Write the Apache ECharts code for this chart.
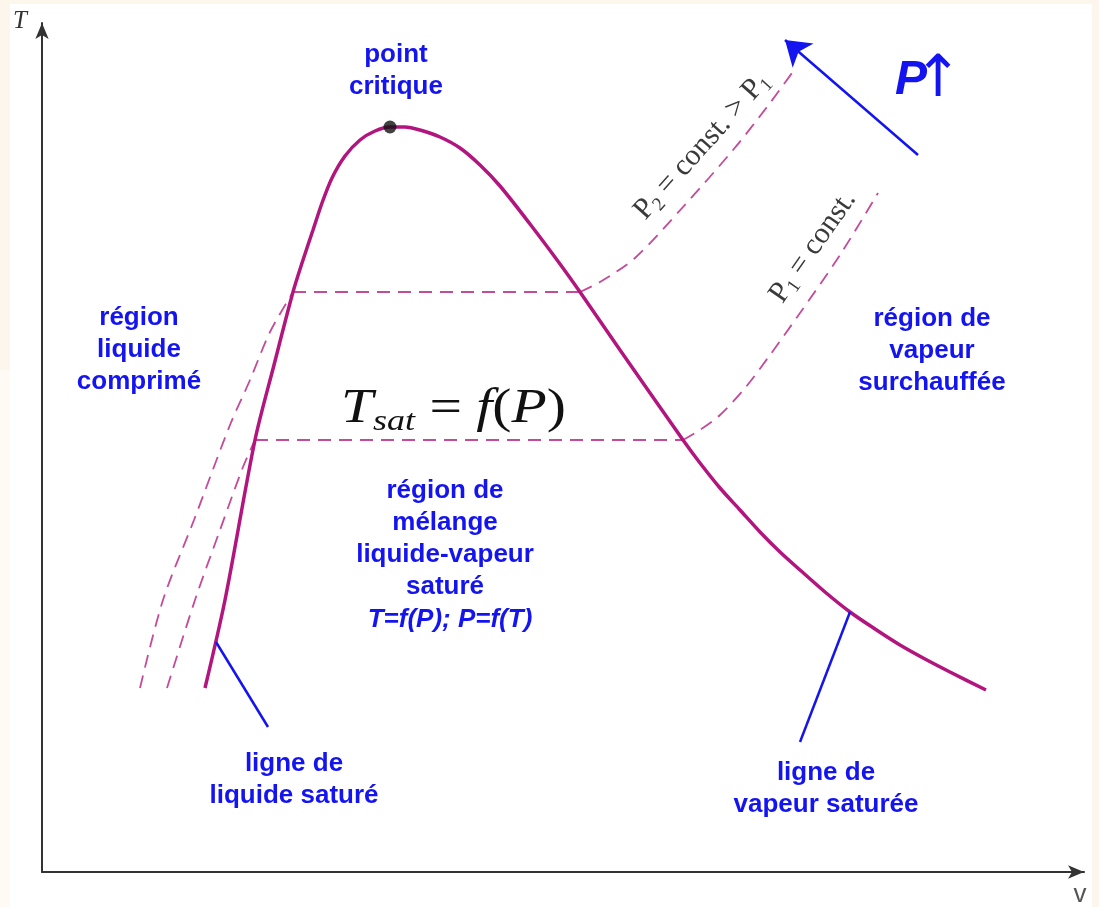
<!DOCTYPE html>
<html>
<head>
<meta charset="utf-8">
<title>Diagramme T-v</title>
<script src="https://cdn.jsdelivr.net/npm/echarts@6/dist/echarts.min.js"></script>
<style>
  html, body { margin: 0; padding: 0; background: #fdf6ec; }
  #main { width: 1099px; height: 907px; }
</style>
</head>
<body>
<div id="main"></div>
<script>
// courbe de saturation, [v, T] en unites arbitraires
const liquideSature = [[163,184],[183,272],[213,432],[232,507],[251,580],[261,612],[271,642],[280,669],[290,694],[303,716],[318,732],[333,741],[348,745]];
const vapeurSaturee = [[348,745],[363,745],[378,742],[398,735],[418,724],[438,707],[458,686],[488,648],[518,608],[538,580],[578,522],[641,432],[658,409],[678,384],[698,362],[718,340],[738,320],[758,302],[783,280],[808,260],[833,243],[858,227],[883,213],[908,200],[944,182]];
const pointCritique = [[348,745]];

// isobares P2 > P1
const p2Liquide = [[98,184],[121,272],[152,352],[188,447],[208,492],[228,540],[251,580]];
const p2Palier = [[251,580],[538,580]];
const p2Vapeur = [[538,580],[558,590],[593,614],[641,665],[691,722],[725,765],[750,799]];
const p1Liquide = [[125,184],[153,272],[178,342],[201,405],[213,432]];
const p1Palier = [[213,432],[641,432]];
const p1Vapeur = [[641,432],[658,442],[678,457],[703,484],[728,517],[758,559],[798,617],[836,679]];

// traits de renvoi et fleche "P augmente"
const renvois = [
    [[174,230],[226,145]],
    [[808,260],[758,130]]
];
const flecheP = [[876,717],[743,832]];

const bleu = '#1414f0';
const magenta = '#b3157f';
const rose = '#c24c9a';

function courbe(data, pointille, lisse) {
    return {
        type: 'line',
        data: data,
        symbol: 'none',
        silent: true,
        smooth: lisse ? 0.3 : false,
        z: pointille ? 2 : 3,
        lineStyle: pointille
            ? { color: rose, width: 1.8, type: [13, 8] }
            : { color: magenta, width: 3.5 }
    };
}

function texteBleu(text, x, y, italique) {
    return {
        type: 'text', x: x, y: y, silent: true,
        style: {
            text: text,
            fill: bleu,
            font: (italique ? 'italic ' : '') + 'bold 26px "Liberation Sans", Arial, sans-serif',
            align: 'center',
            verticalAlign: 'middle',
            lineHeight: 32
        }
    };
}

function texteIsobare(text, x, y, angle) {
    return {
        type: 'text', x: x, y: y, rotation: angle, silent: true,
        style: {
            text: text,
            fill: '#3a3a3a',
            font: '30px "Liberation Serif", serif',
            align: 'center',
            verticalAlign: 'middle',
            rich: {
                a: { font: '30px "Liberation Serif", serif', fill: '#3a3a3a', lineHeight: 34, verticalAlign: 'middle' },
                s: { font: '19px "Liberation Serif", serif', fill: '#3a3a3a', lineHeight: 17, verticalAlign: 'bottom' }
            }
        }
    };
}

const chart = echarts.init(document.getElementById('main'));

const axe = (max) => ({
    type: 'value',
    min: 0,
    max: max,
    axisLine: {
        show: true,
        symbol: ['none', 'arrow'],
        symbolSize: [10, 16],
        lineStyle: { color: '#333', width: 2 }
    },
    axisTick: { show: false },
    axisLabel: { show: false },
    splitLine: { show: false }
});

const option = {
    backgroundColor: '#fdf6ec',
    animation: false,
    grid: { left: 42, right: 15, top: 23, bottom: 35 },
    xAxis: axe(1042),
    yAxis: axe(849),
    series: [
        courbe(liquideSature.concat(vapeurSaturee.slice(1)), false, true),
        courbe(p2Liquide, true, true),
        courbe(p2Palier, true, false),
        courbe(p2Vapeur, true, true),
        courbe(p1Liquide, true, true),
        courbe(p1Palier, true, false),
        courbe(p1Vapeur, true, true),
        {
            type: 'scatter',
            data: pointCritique,
            symbolSize: 13,
            itemStyle: { color: '#111' },
            z: 5
        },
        {
            type: 'lines',
            coordinateSystem: 'cartesian2d',
            data: renvois.map(c => ({ coords: c })),
            symbol: 'none',
            lineStyle: { color: bleu, width: 2.5, opacity: 1, curveness: 0 },
            z: 4
        },
        {
            type: 'lines',
            coordinateSystem: 'cartesian2d',
            data: [{ coords: flecheP }],
            symbol: ['none', 'arrow'],
            symbolSize: 24,
            lineStyle: { color: bleu, width: 2.5, opacity: 1, curveness: 0 },
            z: 4
        }
    ],
    graphic: [
        { type: 'rect', z: -10, silent: true, shape: { x: 10, y: 4, width: 1082, height: 903 }, style: { fill: '#ffffff' } },
        { type: 'rect', z: -10, silent: true, shape: { x: 0, y: 370, width: 10, height: 537 }, style: { fill: '#fffaf3' } },

        { type: 'text', x: 20, y: 21, silent: true, style: { text: 'T', fill: '#333', font: 'italic 25px "Liberation Serif", serif', align: 'center', verticalAlign: 'middle' } },
        { type: 'text', x: 1080, y: 895, silent: true, style: { text: 'v', fill: '#555', font: '26px "Liberation Sans", sans-serif', align: 'center', verticalAlign: 'middle' } },

        texteBleu('point\ncritique', 396, 71),
        texteBleu('région\nliquide\ncomprimé', 139, 350),
        texteBleu('région de\nvapeur\nsurchauffée', 932, 351),
        texteBleu('région de\nmélange\nliquide-vapeur\nsaturé', 445, 539),
        texteBleu('T=f(P); P=f(T)', 450, 620, true),
        texteBleu('ligne de\nliquide saturé', 294, 780),
        texteBleu('ligne de\nvapeur saturée', 826, 789),

        { type: 'text', x: 895, y: 81, silent: true, style: { text: 'P', fill: bleu, font: 'italic bold 48px "Liberation Sans", Arial, sans-serif', align: 'left', verticalAlign: 'middle' } },
        { type: 'text', x: 938, y: 81, silent: true, style: { text: '↑', fill: bleu, font: '58px "DejaVu Sans", sans-serif', align: 'center', verticalAlign: 'middle' } },

        {
            type: 'text', x: 341, y: 409, scaleX: 1.2, silent: true,
            style: {
                text: '{i|T}{s|sat}{r| = }{i|f}{r|(}{i|P}{r|)}',
                font: '48px "Liberation Serif", serif',
                fill: '#111',
                align: 'left',
                verticalAlign: 'middle',
                rich: {
                    i: { font: 'italic 48px "Liberation Serif", serif', fill: '#111', lineHeight: 56, verticalAlign: 'middle' },
                    r: { font: '48px "Liberation Serif", serif', fill: '#111', lineHeight: 56, verticalAlign: 'middle' },
                    s: { font: 'italic 30px "Liberation Serif", serif', fill: '#111', lineHeight: 24, verticalAlign: 'bottom' }
                }
            }
        },

        texteIsobare('{a|P}{s|2}{a| = const. > P}{s|1}', 702, 146, 0.838),
        texteIsobare('{a|P}{s|1}{a| = const.}', 813, 247, 0.96)
    ]
};

chart.setOption(option);
</script>
</body>
</html>
